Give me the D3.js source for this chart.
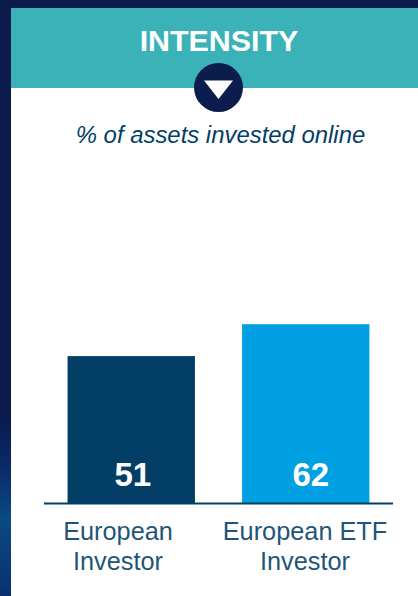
<!DOCTYPE html>
<html>
<head>
<meta charset="utf-8">
<script src="https://cdn.jsdelivr.net/npm/d3@7"></script>
<style>
  html, body { margin: 0; padding: 0; background: #fff; overflow: hidden; }
  svg { display: block; font-family: "Liberation Sans", Arial, sans-serif; }
</style>
</head>
<body>
<svg id="chart" width="418" height="596"></svg>
<script>
const title = "INTENSITY";
const subtitle = "% of assets invested online";
const categories = ["European Investor", "European ETF Investor"];
const labelLines = [["European", "Investor"], ["European ETF", "Investor"]];
const values = [51, 62];
const barColors = ["#023e66", "#00a0e3"];

const width = 418;
const height = 596;
const navy = "#0b1c4d";
const svg = d3.select("#chart");

// background strip down the left, navy until it turns blue near the bottom
const defs = svg.append("defs");
const grad = defs.append("linearGradient")
  .attr("id", "strip").attr("x1", 0).attr("x2", 0).attr("y1", 0).attr("y2", 1);
grad.append("stop").attr("offset", "0%").attr("stop-color", navy);
grad.append("stop").attr("offset", "70%").attr("stop-color", "#0a1b4c");
grad.append("stop").attr("offset", "78%").attr("stop-color", "#0a2a68");
grad.append("stop").attr("offset", "87%").attr("stop-color", "#0a4a80");
grad.append("stop").attr("offset", "100%").attr("stop-color", "#0a3072");

svg.append("rect").attr("width", width).attr("height", height).attr("fill", "#fff");
svg.append("rect").attr("width", 11).attr("height", height).attr("fill", "url(#strip)");
svg.append("rect").attr("width", width).attr("height", 8).attr("fill", navy);

// header band
svg.append("rect").attr("x", 11).attr("y", 8).attr("width", width - 11).attr("height", 80).attr("fill", "#3ab2b8");
svg.append("text").attr("x", 219).attr("y", 50.5).attr("text-anchor", "middle")
  .attr("font-size", 30.4).attr("font-weight", "bold").attr("fill", "#fff").text(title);

svg.append("circle").attr("cx", 218.5).attr("cy", 87.5).attr("r", 24.5).attr("fill", navy);
svg.append("path").attr("d", "M204 80.5H233L218.5 99Z").attr("fill", "#fff");

svg.append("text").attr("x", 220.5).attr("y", 143).attr("text-anchor", "middle")
  .attr("font-size", 23.9).attr("font-style", "italic").attr("fill", "#023e66").text(subtitle);

// chart
const x = d3.scaleBand().domain(categories).range([44, 393]).paddingInner(0.27).paddingOuter(0.135);
const y = d3.scaleLinear().domain([0, 100]).range([504, 214]);

svg.selectAll("rect.bar").data(categories).join("rect")
  .attr("class", "bar")
  .attr("x", d => x(d))
  .attr("y", (d, i) => y(values[i]))
  .attr("width", x.bandwidth())
  .attr("height", (d, i) => y(0) - y(values[i]))
  .attr("fill", (d, i) => barColors[i]);

const valueOffset = [1.5, 5];
svg.selectAll("text.val").data(categories).join("text")
  .attr("class", "val")
  .attr("x", (d, i) => x(d) + x.bandwidth() / 2 + valueOffset[i])
  .attr("y", 486)
  .attr("text-anchor", "middle")
  .attr("font-size", 33).attr("font-weight", "bold").attr("fill", "#fff")
  .text((d, i) => values[i]);

svg.append("line").attr("x1", 44).attr("x2", 393).attr("y1", y(0) - 0.5).attr("y2", y(0) - 0.5)
  .attr("stroke", "#023e66").attr("stroke-width", 2);

// labels sit a bit left of the bars in the original
const labelCenters = [118, 305];
const labels = svg.selectAll("text.cat").data(categories).join("text")
  .attr("class", "cat")
  .attr("text-anchor", "middle")
  .attr("font-size", 25.3).attr("fill", "#1f5678");
labels.each(function (d, i) {
  d3.select(this).selectAll("tspan").data(labelLines[i]).join("tspan")
    .attr("x", labelCenters[i])
    .attr("y", (_, j) => 540 + j * 30)
    .text(t => t);
});
</script>
</body>
</html>
